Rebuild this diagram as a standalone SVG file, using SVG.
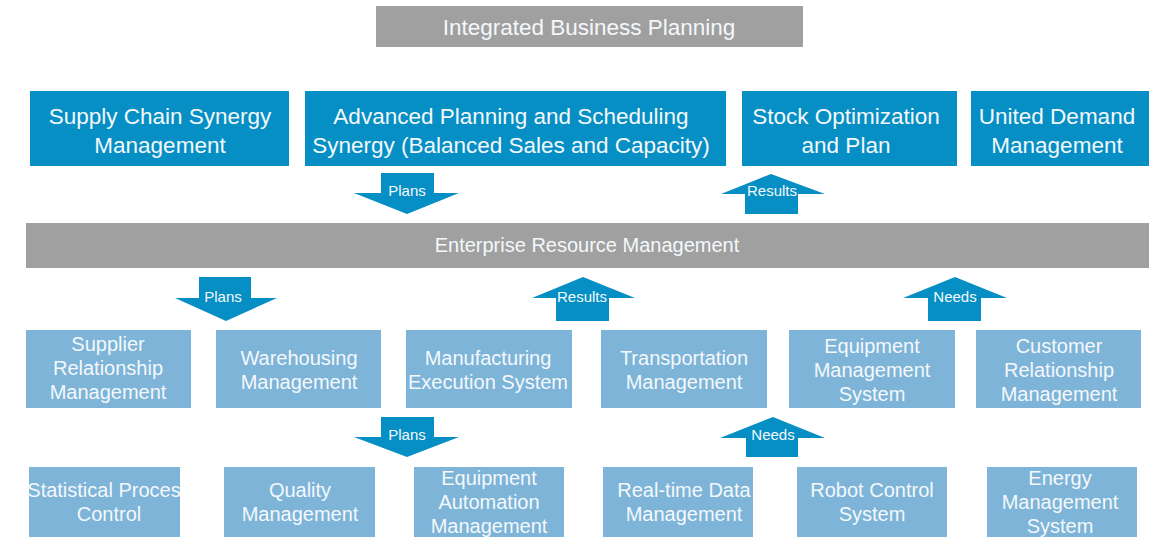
<svg xmlns="http://www.w3.org/2000/svg" width="1158" height="537" viewBox="0 0 1158 537">
<style>
text{font-family:"Liberation Sans",Arial,sans-serif;fill:#f4f8fb;text-anchor:middle}
.gray{fill:#a0a0a0}
.dark{fill:#058fc4}
.light{fill:#7db4d8}
.arrow{fill:#058fc4}
.t22{font-size:22.5px}
.t20{font-size:20px}
.t19{font-size:20px}
.lbl{font-size:15px}
</style>
<rect width="1158" height="537" fill="#ffffff"/>
<g id="ibp"><rect class="gray" x="376" y="6" width="427" height="41"/><text class="t22" x="589" y="35">Integrated Business Planning</text></g>
<g id="scsm"><rect class="dark" x="30" y="91" width="259" height="75"/><text class="t22" x="160" y="124">Supply Chain Synergy</text><text class="t22" x="160" y="153">Management</text></g>
<g id="aps"><rect class="dark" x="305" y="91" width="421" height="75"/><text class="t22" x="511" y="124">Advanced Planning and Scheduling</text><text class="t22" x="511" y="153">Synergy (Balanced Sales and Capacity)</text></g>
<g id="sop"><rect class="dark" x="742" y="91" width="215" height="75"/><text class="t22" x="846" y="124">Stock Optimization</text><text class="t22" x="846" y="153">and Plan</text></g>
<g id="udm"><rect class="dark" x="971" y="91" width="178" height="75"/><text class="t22" x="1057" y="124">United Demand</text><text class="t22" x="1057" y="153">Management</text></g>
<g id="erm"><rect class="gray" x="26" y="223" width="1123" height="45"/><text class="t19" x="587" y="252">Enterprise Resource Management</text></g>
<g id="srm"><rect class="light" x="26" y="330" width="165" height="78"/><text class="t19" x="108" y="351">Supplier</text><text class="t19" x="108" y="375">Relationship</text><text class="t19" x="108" y="399">Management</text></g>
<g id="wm"><rect class="light" x="216" y="330" width="165" height="78"/><text class="t19" x="299" y="365">Warehousing</text><text class="t19" x="299" y="389">Management</text></g>
<g id="mes"><rect class="light" x="406" y="330" width="166" height="78"/><text class="t19" x="488" y="365">Manufacturing</text><text class="t19" x="488" y="389">Execution System</text></g>
<g id="tm"><rect class="light" x="601" y="330" width="166" height="78"/><text class="t19" x="684" y="365">Transportation</text><text class="t19" x="684" y="389">Management</text></g>
<g id="ems"><rect class="light" x="789" y="330" width="166" height="78"/><text class="t19" x="872" y="353">Equipment</text><text class="t19" x="872" y="377">Management</text><text class="t19" x="872" y="401">System</text></g>
<g id="crm"><rect class="light" x="976" y="330" width="165" height="78"/><text class="t19" x="1059" y="353">Customer</text><text class="t19" x="1059" y="377">Relationship</text><text class="t19" x="1059" y="401">Management</text></g>
<g id="spc"><rect class="light" x="29" y="467" width="151" height="72"/><text class="t19" x="104" y="497">Statistical Proces</text><text class="t19" x="109" y="521">Control</text></g>
<g id="qm"><rect class="light" x="224" y="467" width="151" height="72"/><text class="t19" x="300" y="497">Quality</text><text class="t19" x="300" y="521">Management</text></g>
<g id="eam"><rect class="light" x="414" y="467" width="150" height="72"/><text class="t19" x="489" y="485">Equipment</text><text class="t19" x="489" y="509">Automation</text><text class="t19" x="489" y="533">Management</text></g>
<g id="rtdm"><rect class="light" x="603" y="467" width="150" height="72"/><text class="t19" x="684" y="497">Real-time Data</text><text class="t19" x="684" y="521">Management</text></g>
<g id="rcs"><rect class="light" x="797" y="467" width="150" height="72"/><text class="t19" x="872" y="497">Robot Control</text><text class="t19" x="872" y="521">System</text></g>
<g id="enms"><rect class="light" x="987" y="467" width="150" height="72"/><text class="t19" x="1060" y="485">Energy</text><text class="t19" x="1060" y="509">Management</text><text class="t19" x="1060" y="533">System</text></g>
<g id="connectors">
<g id="a1"><polygon class="arrow" points="381,173 434,173 434,193 459,193 407,214 354,193 381,193"/><text class="lbl" x="407" y="196">Plans</text></g>
<g id="a2"><polygon class="arrow" points="771,174 825,194 798,194 798,214 745,214 745,194 721,194"/><text class="lbl" x="772" y="196">Results</text></g>
<g id="a3"><polygon class="arrow" points="199,277 251,277 251,298 277,298 226,321 175,298 199,298"/><text class="lbl" x="223" y="302">Plans</text></g>
<g id="a4"><polygon class="arrow" points="583,277 635,298 609,298 609,321 556,321 556,298 532,298"/><text class="lbl" x="582" y="302">Results</text></g>
<g id="a5"><polygon class="arrow" points="955,277 1007,298 981,298 981,321 928,321 928,298 903,298"/><text class="lbl" x="955" y="302">Needs</text></g>
<g id="a6"><polygon class="arrow" points="381,417 434,417 434,437 459,437 407,457 354,437 381,437"/><text class="lbl" x="407" y="440">Plans</text></g>
<g id="a7"><polygon class="arrow" points="773,417 825,438 798,438 798,457 746,457 746,438 720,438"/><text class="lbl" x="773" y="440">Needs</text></g>
</g>
</svg>
